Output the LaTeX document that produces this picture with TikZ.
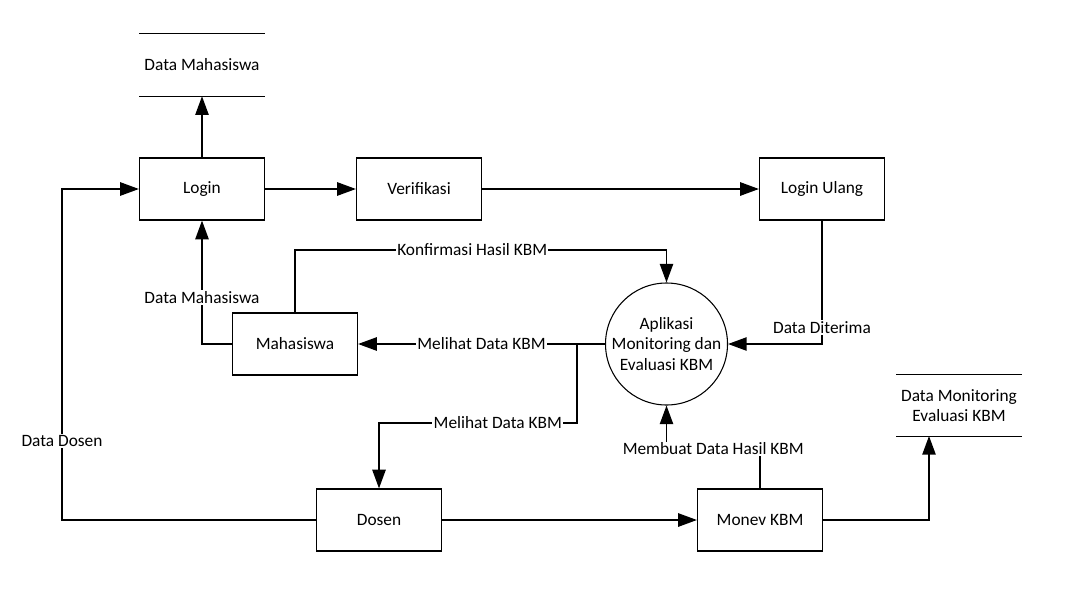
\documentclass[tikz,border=0pt]{standalone}
\usepackage{fontspec}
\setmainfont{Carlito}
\usetikzlibrary{arrows.meta}
\begin{document}
\begin{tikzpicture}[x=0.75pt,y=-0.75pt,
  every node/.style={font=\fontsize{13}{15.4}\selectfont},
  box/.style={draw,line width=0.9pt,minimum width=93.75pt,minimum height=46.5pt,inner sep=0pt},
  proc/.style={draw,line width=0.8pt,circle,minimum size=91.5pt,inner sep=0pt,align=center},
  store/.style={minimum width=93.75pt,minimum height=46.5pt,inner sep=0pt,align=center},
  flow/.style={line width=1.1pt,-{Triangle[length=14pt,width=10pt]}},
  plain/.style={line width=1.1pt},
  lbl/.style={fill=white,inner sep=1pt}]
\useasboundingbox (0,0) rectangle (1069,589);
% stores
\node[store] (dm) at (202,65) {Data Mahasiswa};
\draw[line width=0.8pt] (dm.north west) -- (dm.north east) (dm.south west) -- (dm.south east);
\node[store] (dmon) at (959,405.5) {Data Monitoring\\Evaluasi KBM};
\draw[line width=0.8pt] (dmon.north west) -- (dmon.north east) (dmon.south west) -- (dmon.south east);
% boxes
\node[box] (login) at (202,189) {Login};
\node[box] (ver) at (419,189) {Verifikasi};
\node[box] (lu) at (822,189) {Login Ulang};
\node[box] (mhs) at (295,344) {Mahasiswa};
\node[box] (dsn) at (379,520) {Dosen};
\node[box] (mon) at (760,520) {Monev KBM};
\node[proc] (app) at (666.5,344) {Aplikasi\\Monitoring dan\\Evaluasi KBM};
% coordinates
\coordinate (c1) at (202,344);
\coordinate (c2) at (295,250);
\coordinate (c3) at (666.5,250);
\coordinate (c4) at (577,344);
\coordinate (c5) at (577,423);
\coordinate (c6) at (379,423);
\coordinate (c7) at (822,344);
\coordinate (c8) at (62,520);
\coordinate (c9) at (62,189);
\coordinate (c10) at (760,449);
\coordinate (c11) at (666.5,449);
\coordinate (c12) at (929,520);
\coordinate (c13) at (929,436);
% connectors
\draw[flow] (login.north) -- (dm.south);
\draw[flow] (login.east) -- (ver.west);
\draw[flow] (ver.east) -- (lu.west);
\draw[flow] (mhs.west) -- (c1) -- node[lbl,pos=0.38]{Data Mahasiswa} (login.south);
\draw[flow] (mhs.north) -- (c2) -- node[lbl,pos=0.477]{Konfirmasi Hasil KBM} (c3) -- (app.north);
\draw[flow] (app.west) -- node[lbl,pos=0.5]{Melihat Data KBM} (mhs.east);
\draw[flow] (c4) -- (c5) -- node[lbl,pos=0.4]{Melihat Data KBM} (c6) -- (dsn.north);
\draw[flow] (lu.south) -- node[lbl,pos=0.866]{Data Diterima} (c7) -- (app.east);
\draw[flow] (dsn.west) -- (c8) -- node[lbl,pos=0.24]{Data Dosen} (c9) -- (login.west);
\draw[flow] (dsn.east) -- (mon.west);
\draw[flow] (mon.north) -- (c10) -- node[lbl,pos=0.5]{Membuat Data Hasil KBM} (c11) -- (app.south);
\draw[flow] (mon.east) -- (c12) -- (c13);
\end{tikzpicture}
\end{document}
